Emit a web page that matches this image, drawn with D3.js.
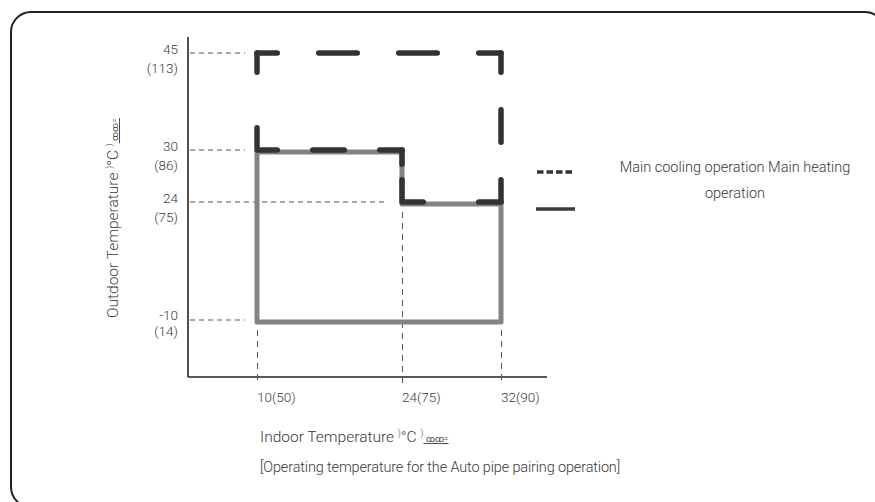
<!DOCTYPE html>
<html><head><meta charset="utf-8">
<script src="https://cdn.jsdelivr.net/npm/d3@7"></script>
<style>
html,body{margin:0;padding:0;background:#fff;}
text{font-family:Roboto,"Open Sans",sans-serif;font-weight:300;fill:#3a3a3a;}
</style></head>
<body><svg id="c" width="875" height="502"></svg>
<script>
// Data
const indoorTicks = [10, 24, 32];
const indoorLabels = ["10(50)", "24(75)", "32(90)"];
const outdoorTicks = [45, 30, 24, -10];
const outdoorLabelsC = ["45", "30", "24", "-10"];
const outdoorLabelsF = ["(113)", "(86)", "(75)", "(14)"];
// Main cooling operation region (indoor, outdoor)
const coolingX = [10, 32, 32, 24, 24, 10, 10];
const coolingY = [45, 45, 24, 24, 30, 30, 45];
// Main heating operation region
const heatingX = [10, 24, 24, 32, 32, 10];
const heatingY = [30, 30, 24, 24, -10, -10];
const legendLabels = ["Main cooling operation Main heating", "operation"];
const caption = "[Operating temperature for the Auto pipe pairing operation]";

const svg = d3.select("#c");
// frame
svg.append("rect").attr("x", 11).attr("y", 12).attr("width", 874).attr("height", 495)
  .attr("rx", 20).attr("fill", "none").attr("stroke", "#222").attr("stroke-width", 2);

const x = d3.scaleLinear().domain([0, 10, 24, 32, 35]).range([188, 257, 402, 501, 547]);
const y = d3.scaleLinear().domain([-20, -10, 24, 30, 45, 50]).range([377, 320, 202, 150, 53, 37]);

// axes lines
svg.append("line").attr("x1", x(0)).attr("x2", x(0)).attr("y1", y(50)).attr("y2", y(-20))
  .attr("stroke", "#222").attr("stroke-width", 1.6);
svg.append("line").attr("x1", x(0)).attr("x2", x(35)).attr("y1", y(-20)).attr("y2", y(-20))
  .attr("stroke", "#222").attr("stroke-width", 1.6);

// guide dashed lines
outdoorTicks.forEach(v => {
  const xEnd = v === 24 ? x(24) - 14 : x(10) - 12;
  svg.append("line").attr("x1", x(0) + 2).attr("x2", xEnd).attr("y1", y(v)).attr("y2", y(v))
    .attr("stroke", "#555").attr("stroke-width", 1).attr("stroke-dasharray", "5,4");
});
indoorTicks.forEach(v => {
  const yStart = v === 24 ? y(24) + 10 : y(-10) + 10;
  svg.append("line").attr("x1", x(v) + 0.5).attr("x2", x(v) + 0.5).attr("y1", yStart).attr("y2", y(-20) + 8)
    .attr("stroke", "#555").attr("stroke-width", 1).attr("stroke-dasharray", "6,5");
});

// tick labels
outdoorTicks.forEach((v, i) => {
  svg.append("text").attr("x", x(0) - 10).attr("y", y(v) + (v === -10 ? 0 : 1)).attr("text-anchor", "end")
    .attr("font-size", 13.5).text(outdoorLabelsC[i]);
  svg.append("text").attr("x", x(0) - 10).attr("y", y(v) + (v === -10 ? 15.5 : 20)).attr("text-anchor", "end")
    .attr("font-size", 13.5).text(outdoorLabelsF[i]);
});
indoorTicks.forEach((v, i) => {
  svg.append("text").attr("x", x(v)).attr("y", 402).attr("text-anchor", "start")
    .attr("font-size", 13.5).text(indoorLabels[i]);
});

// heating region (solid grey)
const line = d3.line().x(d => x(d[0])).y(d => y(d[1]));
const heatPts = heatingX.map((v, i) => [v, heatingY[i]]);
svg.append("path").attr("d", line(heatPts) + "Z").attr("transform", "translate(0,2)")
  .attr("fill", "none").attr("stroke", "#838386").attr("stroke-width", 5).attr("stroke-linejoin", "round");

// cooling region (dark dashed), one path per edge so corners carry dashes
const edgeDash = [[44, 36, 21], [38, 32, 16], [50, 50, 25], [25, 10, 0], [37, 30, 12], [25, 50, 0]];
for (let i = 0; i < coolingX.length - 1; i++) {
  const [d, g, o] = edgeDash[i];
  svg.append("path")
    .attr("d", line([[coolingX[i], coolingY[i]], [coolingX[i + 1], coolingY[i + 1]]]))
    .attr("fill", "none").attr("stroke", "#333335").attr("stroke-width", 5.5)
    .attr("stroke-linecap", "round")
    .attr("stroke-dasharray", `${d - 5.5},${g + 5.5}`)
    .attr("stroke-dashoffset", o - 2.75);
}

// legend
svg.append("line").attr("x1", 537).attr("x2", 573).attr("y1", 172).attr("y2", 172)
  .attr("stroke", "#333").attr("stroke-width", 3.5).attr("stroke-dasharray", "6.5,3");
svg.append("line").attr("x1", 536).attr("x2", 575).attr("y1", 209).attr("y2", 209)
  .attr("stroke", "#3a3a3a").attr("stroke-width", 3.5);
legendLabels.forEach((t, i) => {
  svg.append("text").attr("x", 735).attr("y", 172 + i * 26).attr("text-anchor", "middle")
    .attr("font-size", 14.5).text(t);
});

// axis titles
function title(sel) {
  sel.append("tspan").text("Temperature ");
  sel.append("tspan").attr("font-size", 9).attr("dy", -6).text(")");
  sel.append("tspan").attr("dy", 6).text("°C ");
  sel.append("tspan").attr("font-size", 9).attr("dy", -6).text(")");
  sel.append("tspan").attr("font-size", 9).attr("dy", 6).attr("text-decoration", "underline").text(" ꝏꝏ=");
}
const yt = svg.append("text").attr("transform", "translate(118,218) rotate(-90)")
  .attr("text-anchor", "middle").attr("font-size", 15.5);
yt.append("tspan").text("Outdoor ");
title(yt);

const xt = svg.append("text").attr("x", 260).attr("y", 442).attr("font-size", 15.5);
xt.append("tspan").text("Indoor ");
title(xt);

svg.append("text").attr("x", 440).attr("y", 472).attr("text-anchor", "middle").attr("font-size", 14.5)
  .attr("letter-spacing", -0.15).text(caption);
</script></body></html>
